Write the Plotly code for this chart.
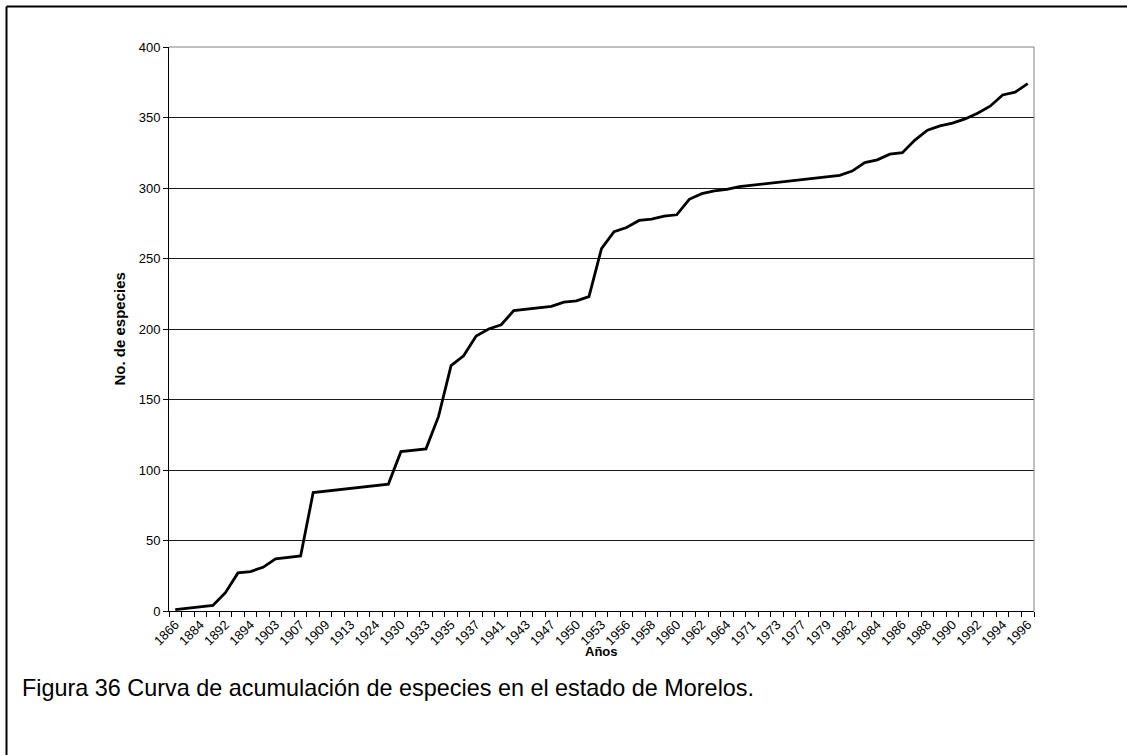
import plotly.graph_objects as go

# Years of record (every other one is labelled on the axis)
years = ["1866", "1878", "1884", "1888", "1892", "1893", "1894", "1898", "1903", "1905",
         "1907", "1908", "1909", "1911", "1913", "1920", "1924", "1927", "1930", "1932",
         "1933", "1934", "1935", "1936", "1937", "1939", "1941", "1942", "1943", "1945",
         "1947", "1949", "1950", "1952", "1953", "1955", "1956", "1957", "1958", "1959",
         "1960", "1961", "1962", "1963", "1964", "1967", "1971", "1972", "1973", "1975",
         "1977", "1978", "1979", "1981", "1982", "1983", "1984", "1985", "1986", "1987",
         "1988", "1989", "1990", "1991", "1992", "1993", "1994", "1995", "1996"]

# Cumulative number of species
species = [1, 2, 3, 4, 13, 27, 28, 31, 37, 38,
           39, 84, 85, 86, 87, 88, 89, 90, 113, 114,
           115, 138, 174, 181, 195, 200, 203, 213, 214, 215,
           216, 219, 220, 223, 257, 269, 272, 277, 278, 280,
           281, 292, 296, 298, 299, 301, 302, 303, 304, 305,
           306, 307, 308, 309, 312, 318, 320, 324, 325, 334,
           341, 344, 346, 349, 353, 358, 366, 368, 374]

y_ticks = [0, 50, 100, 150, 200, 250, 300, 350, 400]

FONT = "Liberation Sans, Arial, sans-serif"
W, H = 1127, 755
L, R, T, B = 169, 93, 47, 144
pw, ph = W - L - R, H - T - B


def px_x(px):
    return (px - L) / pw


def px_y(py):
    return (H - B - py) / ph


fig = go.Figure()
fig.add_trace(go.Scatter(
    x=years, y=species, mode="lines",
    line=dict(color="#000000", width=2.8),
    hoverinfo="x+y", showlegend=False,
))

fig.update_layout(
    width=W, height=H,
    margin=dict(l=L, r=R, t=T, b=B, pad=0),
    paper_bgcolor="white", plot_bgcolor="white",
    font=dict(family=FONT, color="#000000", size=13),
    xaxis=dict(
        type="category", categoryorder="array", categoryarray=years,
        range=[-0.5, len(years) - 0.5],
        tickmode="linear", tick0=0, dtick=1,
        tickson="boundaries", ticks="outside", ticklen=5, tickwidth=1,
        tickcolor="#000000", ticklabelstep=2, tickangle=-45,
        tickfont=dict(size=13, family=FONT, color="#000000"),
        showgrid=False, zeroline=False,
        showline=True, linecolor="#000000", linewidth=1,
    ),
    yaxis=dict(
        range=[0, 400], tickvals=y_ticks,
        ticks="outside", ticklen=5, tickcolor="#000000",
        tickfont=dict(size=13, family=FONT, color="#000000"),
        showgrid=True, gridcolor="#1a1a1a", gridwidth=1,
        zeroline=False, showline=True, linecolor="#000000", linewidth=1,
    ),
    shapes=[
        # plot-area frame, top and right
        dict(type="line", xref="paper", yref="paper", x0=0, x1=1, y0=1, y1=1,
             line=dict(color="#808080", width=1), layer="above"),
        dict(type="line", xref="paper", yref="paper", x0=1, x1=1, y0=0, y1=1,
             line=dict(color="#808080", width=1), layer="above"),
        # outer frame of the figure: top and left edges
        dict(type="line", xref="paper", yref="paper",
             x0=px_x(6.5), x1=px_x(1127), y0=px_y(6.5), y1=px_y(6.5),
             line=dict(color="#000000", width=2), layer="above"),
        dict(type="line", xref="paper", yref="paper",
             x0=px_x(6.5), x1=px_x(6.5), y0=px_y(755), y1=px_y(6.5),
             line=dict(color="#000000", width=2), layer="above"),
    ],
    annotations=[
        dict(text="<b>No. de especies</b>", textangle=-90,
             xref="paper", yref="paper", x=px_x(118.5), y=0.5,
             xanchor="center", yanchor="middle", showarrow=False,
             font=dict(size=15, family=FONT, color="#000000")),
        dict(text="<b>Años</b>",
             xref="paper", yref="paper", x=0.5, y=px_y(651),
             xanchor="center", yanchor="middle", showarrow=False,
             font=dict(size=13, family=FONT, color="#000000")),
        dict(text="Figura 36 Curva de acumulación de especies en el estado de Morelos.",
             xref="paper", yref="paper", x=px_x(20), y=px_y(688),
             xanchor="left", yanchor="middle", showarrow=False,
             font=dict(size=23.4, family=FONT, color="#000000")),
    ],
)

# keep the page exactly the size of the figure (no scrollbars)
page_css = ("document.documentElement.style.overflow='hidden';"
            "document.body.style.margin='0';"
            "document.body.style.overflow='hidden';")

fig.write_html("out.html", config={"displayModeBar": False}, post_script=page_css)
